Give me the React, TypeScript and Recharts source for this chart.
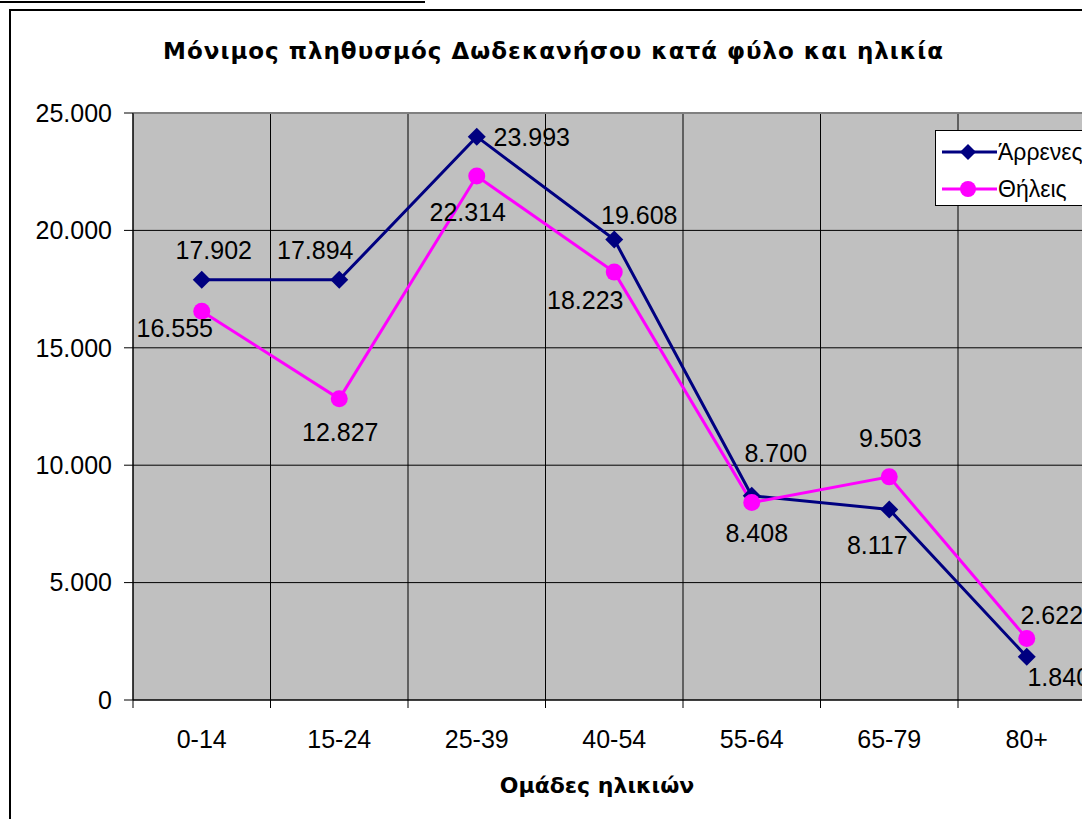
import { CartesianGrid, LabelList, Legend, Line, LineChart, ReferenceLine, XAxis, YAxis } from 'recharts';

const categories = ['0-14', '15-24', '25-39', '40-54', '55-64', '65-79', '80+'];
const males = [17902, 17894, 23993, 19608, 8700, 8117, 1840];
const females = [16555, 12827, 22314, 18223, 8408, 9503, 2622];
const yTicks = [0, 5000, 10000, 15000, 20000, 25000];
const slotEdges = [-0.5, 0.5, 1.5, 2.5, 3.5, 4.5, 5.5, 6.5];
const slotCenters = [0, 1, 2, 3, 4, 5, 6];

// hand placed data labels (dx, dy from the point), like the Excel original
const maleLabelOffsets = [[12, -30], [-24, -30], [55, 0], [25, -25], [24, -43], [-12, 36], [32, 20]];
const femaleLabelOffsets = [[-27, 17], [1, 33], [-9, 36], [-29, 28], [5, 30], [1, -39], [25, -23]];

const data = categories.map((cat, i) => ({ slot: i, cat, male: males[i], female: females[i] }));

const FONT = '"Liberation Sans", Arial, sans-serif';
const TITLE_FONT = '"DejaVu Sans", Verdana, sans-serif';
const MALE = '#000080';
const FEMALE = '#FF00FF';

const formatNum = (v: number) => String(v).replace(/\B(?=(\d{3})+(?!\d))/g, '.');

function Diamond({ cx, cy, size = 9 }: { cx?: number; cy?: number; size?: number }) {
  if (cx == null || cy == null) return null;
  return <path d={`M${cx},${cy - size}L${cx + size},${cy}L${cx},${cy + size}L${cx - size},${cy}Z`} fill={MALE} />;
}

const makeLabel = (offsets: number[][]) => (props: any) => {
  const px = props.x ?? props.viewBox?.x;
  const py = props.y ?? props.viewBox?.y;
  const [dx, dy] = offsets[props.index] ?? [0, 0];
  return (
    <text x={px + dx} y={py + dy} dy="0.36em" textAnchor="middle" fontSize={25} fontFamily={FONT} fill="#000">
      {formatNum(Number(props.value))}
    </text>
  );
};

function LegendBox() {
  return (
    <div style={{ width: 170, height: 76, border: '1px solid #000', background: '#fff', boxSizing: 'border-box' }}>
      <svg width={170} height={76} style={{ display: 'block', marginLeft: -1, marginTop: -1 }}>
        <line x1={7} y1={22} x2={62} y2={22} stroke={MALE} strokeWidth={3} />
        <Diamond cx={33} cy={22} size={8} />
        <text x={63} y={30} fontSize={23} fontFamily={FONT} fill="#000">Άρρενες</text>
        <line x1={7} y1={59} x2={62} y2={59} stroke={FEMALE} strokeWidth={3} />
        <circle cx={33} cy={59} r={8} fill={FEMALE} />
        <text x={63} y={67} fontSize={23} fontFamily={FONT} fill="#000">Θήλεις</text>
      </svg>
    </div>
  );
}

export default function App() {
  return (
    <div style={{ position: 'fixed', left: 0, top: 0, width: 1082, height: 819, overflow: 'hidden', background: '#fff', fontFamily: FONT }}>
      <div style={{ position: 'absolute', left: 0, top: 1, width: 425, height: 2, background: '#000' }} />
      <div style={{ position: 'absolute', left: 9, top: 9, width: 1200, height: 900, border: '2px solid #000' }} />
      <div style={{ position: 'absolute', left: 0, top: 0 }}>
        <LineChart width={1200} height={819} data={data} margin={{ top: 113, right: 104.5, bottom: 0, left: 0 }}>
          <CartesianGrid xAxisId={0} stroke="#000" fill="#C0C0C0" fillOpacity={1} />
          {/* axis 0: slot edges, only the tick marks */}
          <XAxis
            xAxisId={0}
            type="number"
            dataKey="slot"
            domain={[-0.5, 6.5]}
            ticks={slotEdges}
            interval={0}
            tick={() => <g />}
            tickSize={8}
            height={8}
            stroke="#000"
            axisLine={{ stroke: '#000' }}
            tickLine={{ stroke: '#000' }}
          />
          {/* axis 1: category names in the middle of each slot */}
          <XAxis
            xAxisId={1}
            type="number"
            dataKey="slot"
            domain={[-0.5, 6.5]}
            ticks={slotCenters}
            interval={0}
            tickFormatter={(v: number) => categories[v] ?? ''}
            tick={{ fill: '#000', fontSize: 25, fontFamily: FONT }}
            stroke="transparent"
            axisLine={false}
            tickLine={false}
            tickSize={6}
            tickMargin={16}
            height={111}
          />
          <YAxis
            type="number"
            domain={[0, 25000]}
            ticks={yTicks}
            interval={0}
            width={133}
            tickFormatter={(v: number) => formatNum(v)}
            tick={{ fill: '#000', fontSize: 25, fontFamily: FONT }}
            tickSize={9}
            tickMargin={12}
            axisLine={{ stroke: '#000' }}
            tickLine={{ stroke: '#000' }}
          />
          <ReferenceLine xAxisId={0} y={25000} stroke="#808080" strokeWidth={2} />
          <Legend
            content={<LegendBox />}
            layout="horizontal"
            verticalAlign="middle"
            align="center"
            wrapperStyle={{ left: 935, top: 130, width: 170 }}
          />
          <Line
            xAxisId={0}
            type="linear"
            dataKey="male"
            name="Άρρενες"
            stroke={MALE}
            strokeWidth={3}
            dot={(p: any) => <Diamond key={`m-${p.index}`} cx={p.cx} cy={p.cy} />}
            activeDot={false}
            isAnimationActive={false}
          >
            <LabelList dataKey="male" content={makeLabel(maleLabelOffsets)} />
          </Line>
          <Line
            xAxisId={1}
            type="linear"
            dataKey="female"
            name="Θήλεις"
            stroke={FEMALE}
            strokeWidth={3}
            dot={(p: any) => <circle key={`f-${p.index}`} cx={p.cx} cy={p.cy} r={8.5} fill={FEMALE} />}
            activeDot={false}
            isAnimationActive={false}
          >
            <LabelList dataKey="female" content={makeLabel(femaleLabelOffsets)} />
          </Line>
        </LineChart>
      </div>
      <div style={{ position: 'absolute', left: 0, width: 1107, top: 40, fontFamily: TITLE_FONT, fontSize: 23, lineHeight: '23px', letterSpacing: 1, fontWeight: 'bold', textAlign: 'center', color: '#000', whiteSpace: 'nowrap' }}>
        Μόνιμος πληθυσμός Δωδεκανήσου κατά φύλο και ηλικία
      </div>
      <div style={{ position: 'absolute', left: 0, width: 1194, top: 775, fontFamily: TITLE_FONT, fontSize: 22, lineHeight: '22px', fontWeight: 'bold', textAlign: 'center', color: '#000' }}>
        Ομάδες ηλικιών
      </div>
    </div>
  );
}
